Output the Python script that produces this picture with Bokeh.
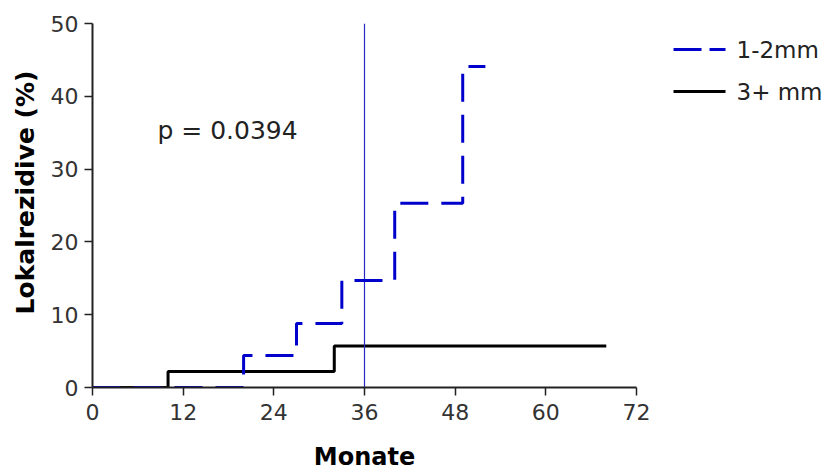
from bokeh.plotting import figure
from bokeh.layouts import row
from bokeh.models import Range1d, Title
from bokeh.embed import file_html
from bokeh.resources import INLINE
from bokeh.core.properties import value

# ---- data ----
months_12 = [0, 20, 27, 33, 40, 49, 52]
rate_12 = [0.0, 4.4, 8.8, 14.7, 25.3, 44.1, 44.1]
months_3 = [0, 10, 32, 68]
rate_3 = [0.0, 2.2, 5.7, 5.7]
series_names = ["1-2mm", "3+ mm"]
x_ticks = [0, 12, 24, 36, 48, 60, 72]
y_ticks = [0, 10, 20, 30, 40, 50]
cutoff_month = 36
p_text = "p = 0.0394"
x_label = "Monate"
y_label = "Lokalrezidive (%)"

FONT = "DejaVu Sans"
BLUE = "#0000cc"
MAIN_W = 660
LEG_W = 827 - MAIN_W
FRAME_TOP, FRAME_BOTTOM = 23, 387

p = figure(width=MAIN_W, height=473, output_backend="svg", toolbar_location=None,
           x_range=Range1d(x_ticks[0], x_ticks[-1]),
           y_range=Range1d(y_ticks[0], y_ticks[-1]),
           min_border_left=92, min_border_right=24, min_border_top=FRAME_TOP,
           min_border_bottom=473 - FRAME_BOTTOM)
p.outline_line_color = None
p.xgrid.visible = False
p.ygrid.visible = False
p.background_fill_color = "white"
p.border_fill_color = "white"

for ax in (p.xaxis[0], p.yaxis[0]):
    ax.axis_line_width = 2
    ax.axis_line_color = "#222222"
    ax.major_tick_line_color = "#222222"
    ax.minor_tick_line_color = "#222222"
    ax.major_tick_line_width = 1.5
    ax.minor_tick_line_width = 1
    ax.major_tick_in = 0
    ax.major_tick_out = 8
    ax.minor_tick_in = 0
    ax.minor_tick_out = 5
    ax.major_label_text_font = FONT
    ax.major_label_text_font_size = "22px"
    ax.major_label_text_color = "#333333"
    ax.axis_label_text_font = FONT
    ax.axis_label_text_font_size = "24px"
    ax.axis_label_text_font_style = "bold"
    ax.axis_label_text_color = "#000000"

p.xaxis.ticker = x_ticks
p.xaxis[0].ticker.num_minor_ticks = 2
p.yaxis.ticker = y_ticks
p.yaxis[0].ticker.num_minor_ticks = 5
p.xaxis.major_label_standoff = 8
p.yaxis.major_label_standoff = 6
p.xaxis.axis_label = x_label
p.xaxis.axis_label_standoff = 20

# y label as a title, so it can be placed like the reference
p.add_layout(Title(text=y_label, align="right", offset=47,
                   text_font=FONT, text_font_size="25px",
                   text_font_style="bold", text_color="#000000",
                   standoff=16), "left")

p.step(x=months_3, y=rate_3, mode="after", line_color="black", line_width=3)
# cutoff line
p.line(x=[cutoff_month, cutoff_month], y=[y_ticks[0], y_ticks[-1]],
       line_color="#2828c8", line_width=1.2)
p.step(x=months_12, y=rate_12, mode="after", line_color=BLUE,
       line_width=3, line_dash="28 13")

p.text(x=[8.6], y=[35.3], text=[p_text], text_font=value(FONT),
       text_font_size="25px", text_color="#222222",
       text_baseline="middle", text_align="left")

# ---- legend panel (pixel-like coordinates, y downward; its frame is
# aligned with the main frame by the row layout) ----
lg = figure(width=LEG_W, height=473, output_backend="svg", toolbar_location=None,
            x_range=Range1d(0, LEG_W), y_range=Range1d(FRAME_BOTTOM, FRAME_TOP),
            x_axis_location=None, y_axis_location=None,
            min_border=0)
lg.outline_line_color = None
lg.xgrid.visible = False
lg.ygrid.visible = False
lg.background_fill_color = "white"
lg.border_fill_color = "white"

leg_rows = [49, 91]
lg.line(x=[13, 65], y=[leg_rows[0]] * 2, line_color=BLUE, line_width=3,
        line_dash="28 8")
lg.line(x=[13, 65], y=[leg_rows[1]] * 2, line_color="black", line_width=3)
lg.text(x=[76, 76], y=leg_rows, text=series_names, text_font=value(FONT),
        text_font_size="23px", text_color="#222222",
        text_baseline="middle", text_align="left")

layout = row(p, lg, spacing=0)
open("out.html", "w").write(file_html(layout, INLINE))
